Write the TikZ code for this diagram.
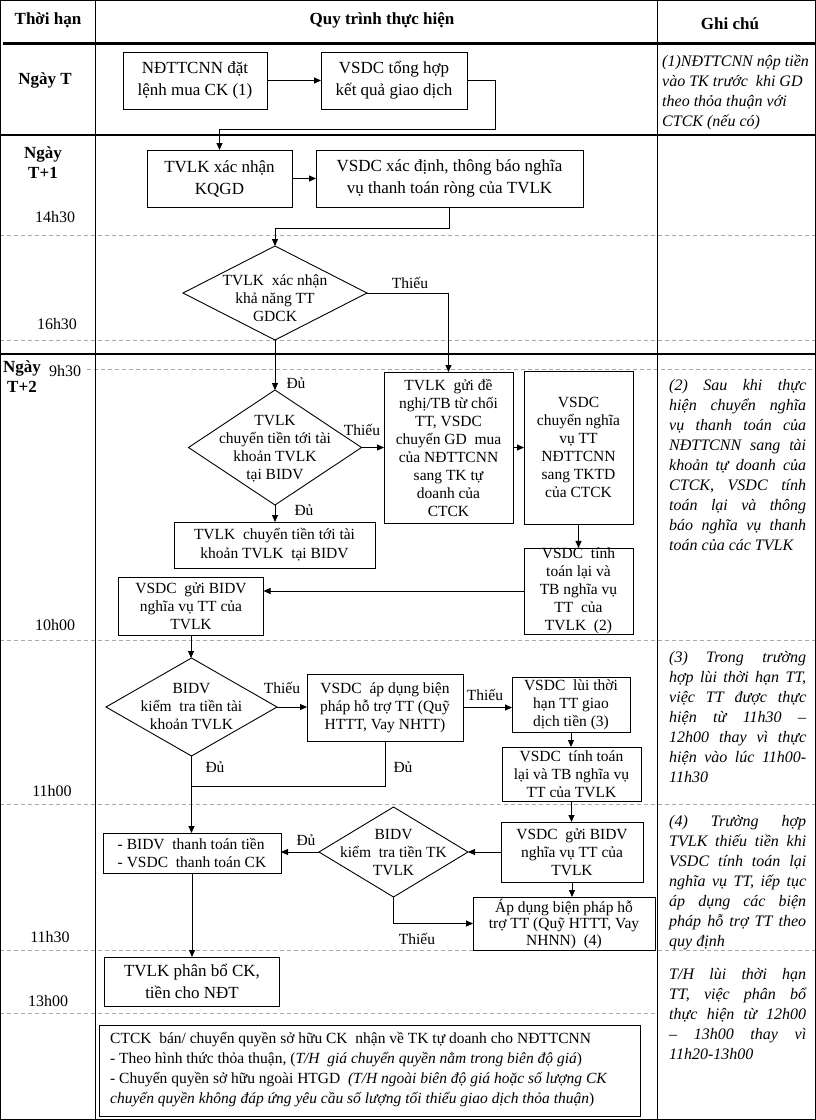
\documentclass[tikz,border=0pt]{standalone}
\usepackage{fontspec}
\setmainfont{Liberation Serif}
\usetikzlibrary{shapes.geometric,arrows.meta}
\definecolor{dashc}{RGB}{150,175,195}
\newcommand{\jl}[1]{\makebox[137pt][s]{#1}\\}
\begin{document}
\begin{tikzpicture}[x=1pt,y=-1pt,
  bx/.style={draw, fill=white, rectangle, line width=0.9pt, inner sep=0pt, outer sep=0pt, align=center},
  big/.style={font=\fontsize{17}{22}\selectfont},
  sm/.style={font=\fontsize{15.5}{18}\selectfont},
  dia/.style={draw, fill=white, diamond, line width=0.9pt, inner sep=0pt, outer sep=0pt},
  dtxt/.style={align=center, inner sep=0pt, font=\fontsize{15.5}{18}\selectfont},
  arr/.style={line width=0.9pt, -{Triangle[length=7pt,width=6pt]}},
  ln/.style={line width=0.9pt},
  lbl/.style={inner sep=0pt, font=\fontsize{15.5}{18}\selectfont},
  hd/.style={inner sep=0pt, font=\bfseries\fontsize{17}{20}\selectfont, align=center},
  tm/.style={inner sep=0pt, font=\fontsize{16}{19}\selectfont},
  note/.style={inner sep=0pt, font=\itshape\fontsize{16}{20}\selectfont, align=left},
  dsh/.style={draw=dashc, line width=0.8pt, dash pattern=on 4pt off 3pt},
  sepline/.style={line width=2.6pt},
  frame/.style={line width=1pt}
]
\useasboundingbox (0,0) rectangle (816,1120);
\fill[white] (0,0) rectangle (816,1120);

% dashed time lines
\draw[dsh] (0,235) -- (816,235);
\draw[dsh] (0,340) -- (816,340);
\draw[dsh] (87,369) -- (816,369);
\draw[dsh] (0,640) -- (816,640);
\draw[dsh] (0,804) -- (816,804);
\draw[dsh] (0,950) -- (816,950);
\draw[dsh] (0,1013) -- (657,1013);

% frame
\draw[frame] (0.5,0.5) rectangle (815.5,1119.5);
\draw[frame] (95,0) -- (95,1120);
\draw[frame] (657,0) -- (657,1120);
\draw[sepline] (3,43.5) -- (816,43.5);
\draw[sepline] (0,135) -- (816,135);
\draw[sepline] (0,354) -- (816,354);

% headers and times
\node[hd] (h1) at (48,20) {Thời hạn};
\node[hd] (h2) at (382,20) {Quy trình thực hiện};
\node[hd] (h3) at (730,24) {Ghi chú};
\node[hd] (dT) at (45,80) {Ngày T};
\node[hd] (dT1) at (43,163) {Ngày\\T+1};
\node[hd] (dT2) at (22,377) {Ngày\\T+2};
\node[tm] (t1) at (55,217) {14h30};
\node[tm] (t2) at (57,324) {16h30};
\node[tm] (t3) at (65,371) {9h30};
\node[tm] (t4) at (55,625) {10h00};
\node[tm] (t5) at (52,791) {11h00};
\node[tm] (t6) at (50,937) {11h30};
\node[tm] (t7) at (48,1001) {13h00};

% boxes
\node[bx, big, minimum width=144, minimum height=57] (A) at (195,80.5) {NĐTTCNN đặt\\lệnh mua CK (1)};
\node[bx, big, minimum width=146, minimum height=57] (B) at (394,80.5) {VSDC tổng hợp\\kết quả giao dịch};
\node[bx, big, minimum width=145, minimum height=57] (C) at (219.5,178.5) {TVLK xác nhận\\KQGD};
\node[bx, big, minimum width=267, minimum height=57] (D) at (449.5,178.5) {VSDC xác định, thông báo nghĩa\\vụ thanh toán ròng của TVLK};
\node[dia, minimum width=184, minimum height=94] (E) at (275,293) {};
\node[dtxt] (Et) at (275,298) {TVLK\ \ xác nhận\\khả năng TT\\GDCK};
\node[bx, sm, minimum width=129, minimum height=151] (F) at (448.5,447.5) {TVLK\ \ gửi đề\\nghị/TB từ chối\\TT, VSDC\\chuyển GD\ \ mua\\của NĐTTCNN\\sang TK tự\\doanh của\\CTCK};
\node[dia, minimum width=173, minimum height=115] (G) at (275,447.5) {};
\node[dtxt] (Gt) at (275,448.5) {TVLK\\chuyển tiền tới tài\\khoản TVLK\\tại BIDV};
\node[bx, sm, minimum width=109, minimum height=153] (H) at (578.5,447.5) {VSDC\\chuyển nghĩa\\vụ TT\\NĐTTCNN\\sang TKTD\\của CTCK};
\node[bx, sm, minimum width=109, minimum height=86, font=\fontsize{15.5}{18}\selectfont] (I) at (578.5,591) {VSDC\ \ tính\\toán lại\ và\\TB nghĩa vụ\\TT\ \ của\\TVLK\ \ (2)};
\node[bx, sm, minimum width=201, minimum height=46, font=\fontsize{15.5}{19}\selectfont] (J) at (274.5,545) {TVLK\ \ chuyển tiền tới tài\\khoản TVLK\ \ tại BIDV};
\node[bx, sm, minimum width=145, minimum height=58] (K) at (191,606) {VSDC\ \ gửi BIDV\\nghĩa vụ TT của\\TVLK};
\node[dia, minimum width=171, minimum height=98] (L) at (191.5,707) {};
\node[dtxt] (Lt) at (191.5,707) {BIDV\\kiểm\ \ tra tiền tài\\khoản TVLK};
\node[bx, sm, minimum width=156, minimum height=67] (M) at (385,707.5) {VSDC\ \ áp dụng biện\\pháp hỗ trợ TT (Quỹ\\HTTT, Vay NHTT)};
\node[bx, sm, minimum width=118, minimum height=55] (N) at (571,704.5) {VSDC\ \ lùi thời\\hạn TT giao\\dịch tiền (3)};
\node[bx, sm, minimum width=139, minimum height=54] (O) at (571.5,774) {VSDC\ \ tính toán\\lại và TB nghĩa vụ\\TT của TVLK};
\node[bx, sm, minimum width=142, minimum height=60] (P) at (572,852) {VSDC\ \ gửi BIDV\\nghĩa vụ TT của\\TVLK};
\node[dia, minimum width=149, minimum height=90] (Q) at (393.5,852) {};
\node[dtxt] (Qt) at (393.5,852.5) {BIDV\\kiểm\ \ tra tiền TK\\TVLK};
\node[bx, sm, align=left, minimum width=178, minimum height=40] (R) at (192,853) {- BIDV\ \ thanh toán tiền\\- VSDC\ \ thanh toán CK};
\node[bx, sm, minimum width=182, minimum height=53, font=\fontsize{15.5}{16.5}\selectfont] (S) at (564,923.5) {Áp dụng biện pháp hỗ\\trợ TT (Quỹ HTTT, Vay\\NHNN)\ \ (4)};
\node[bx, big, minimum width=175, minimum height=49] (T) at (192,981.5) {TVLK phân bổ CK,\\tiền cho NĐT};
\node[bx, minimum width=541, minimum height=91] (U) at (369.5,1070.5) {};
\node[inner sep=0pt, anchor=west, align=left, font=\fontsize{15.5}{20}\selectfont] (Ut) at (110,1070) {CTCK\ \ bán/ chuyển quyền sở hữu CK\ \ nhận về TK tự doanh cho NĐTTCNN\\- Theo hình thức thỏa thuận, (\textit{T/H\ \ giá chuyển quyền nằm trong biên độ giá})\\- Chuyển quyền sở hữu ngoài HTGD\ \ \textit{(T/H ngoài biên độ giá hoặc số lượng CK}\\\textit{chuyển quyền không đáp ứng yêu cầu số lượng tối thiểu giao dịch thỏa thuận})};

% connectors
\coordinate (b1) at (495,129);
\coordinate (d1) at (275,228);
\coordinate (m1) at (191.5,786);
\draw[arr] (A) -- (B);
\draw[arr] (B.east) -| (b1) -| (C.north);
\draw[arr] (C) -- (D);
\draw[arr] (D.south) |- (d1) -- (E.north);
\draw[arr] (E.east) -| (F.north);
\draw[arr] (E.south) -- (G.north);
\draw[arr] (G.east) -- (F.west);
\draw[arr] (F.east) -- (H.west);
\draw[arr] (H.south) -- (I.north);
\draw[arr] (G.south) -- (G.south |- J.north);
\draw[arr] (I.west) -- (I.west -| K.east);
\draw[arr] (K.south) -- (K.south |- L.north);
\draw[arr] (L.east) -- (L.east -| M.west);
\draw[arr] (M.east) -- (M.east -| N.west);
\draw[arr] (N.south) -- (N.south |- O.north);
\draw[arr] (O.south) -- (O.south |- P.north);
\draw[arr] (P.west) -- (P.west -| Q.east);
\draw[arr] (Q.west) -- (Q.west -| R.east);
\draw[arr] (Q.south) |- (S.west);
\draw[arr] (P.south) -- (P.south |- S.north);
\draw[arr] (L.south) -- (L.south |- R.north);
\draw[ln] (M.south) |- (m1);
\draw[arr] (R.south) -- (R.south |- T.north);

% connector labels
\node[lbl] (l1) at (410,283) {Thiếu};
\node[lbl] (l2) at (296,383) {Đủ};
\node[lbl] (l3) at (362,430) {Thiếu};
\node[lbl] (l4) at (304,510) {Đủ};
\node[lbl] (l5) at (282,688) {Thiếu};
\node[lbl] (l6) at (485,695) {Thiếu};
\node[lbl] (l7) at (215,767) {Đủ};
\node[lbl] (l8) at (403,767) {Đủ};
\node[lbl] (l9) at (306,840) {Đủ};
\node[lbl] (l10) at (417,939) {Thiếu};

% notes
\node[note, anchor=west] (n1) at (662,92) {(1)NĐTTCNN nộp tiền\\vào TK trước\ \ khi GD\\theo thỏa thuận với\\CTCK (nếu có)};
\node[note, anchor=west] (n2) at (669,465.5) {\jl{(2) Sau khi thực}\jl{hiện chuyển nghĩa}\jl{vụ thanh toán của}\jl{NĐTTCNN sang tài}\jl{khoản tự doanh của}\jl{CTCK, VSDC tính}\jl{toán lại và thông}\jl{báo nghĩa vụ thanh}toán của các TVLK};
\node[note, anchor=west] (n3) at (669,717) {\jl{(3) Trong trường}\jl{hợp lùi thời hạn TT,}\jl{việc TT được thực}\jl{hiện từ 11h30 –}\jl{12h00 thay vì thực}\jl{hiện vào lúc 11h00-}11h30};
\node[note, anchor=west] (n4) at (669,882.5) {\jl{(4) Trường hợp}\jl{TVLK thiếu tiền khi}\jl{VSDC tính toán lại}\jl{nghĩa vụ TT, iếp tục}\jl{áp dụng các biện}\jl{pháp hỗ trợ TT theo}quy định};
\node[note, anchor=west] (n5) at (669,1014) {\jl{T/H lùi thời hạn}\jl{TT, việc phân bổ}\jl{thực hiện từ 12h00}\jl{– 13h00 thay vì}11h20-13h00};
\end{tikzpicture}
\end{document}
